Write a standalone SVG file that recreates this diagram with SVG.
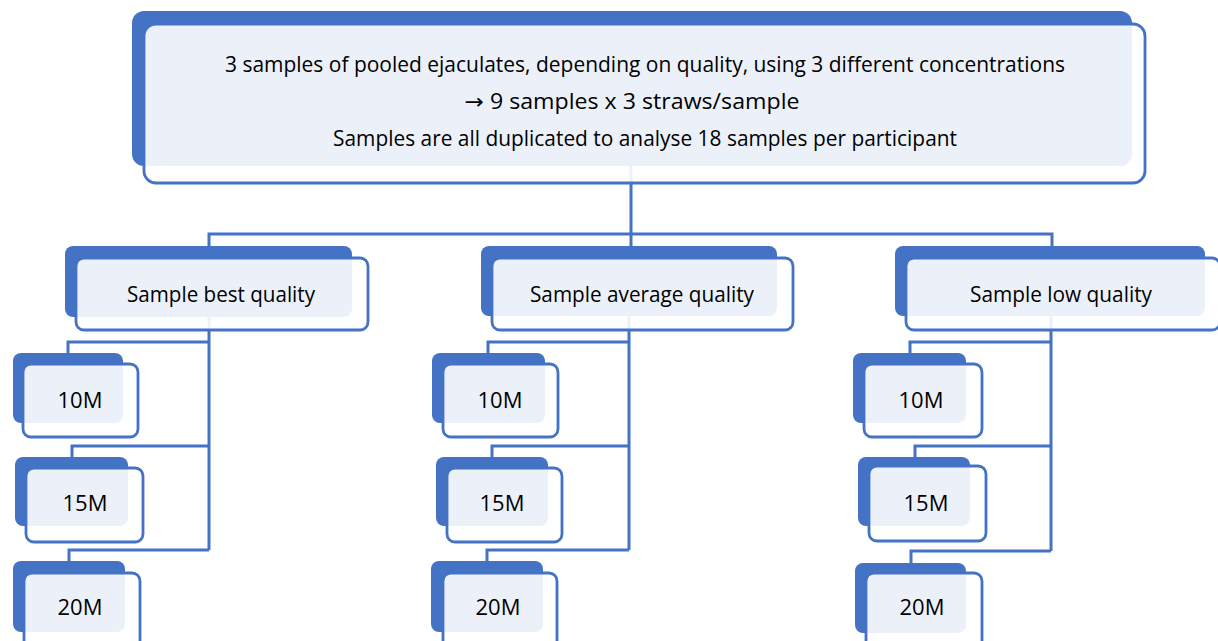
<svg xmlns="http://www.w3.org/2000/svg" width="1218" height="641" viewBox="0 0 1218 641">
<style>
.back{fill:#4472C4;}
.front{fill:#FFFFFF;fill-opacity:0.9;stroke:#4472C4;stroke-width:2.8;}
.conn{fill:none;stroke:#4472C4;stroke-width:3;}
.t{font-family:"Open Sans","Liberation Sans",sans-serif;fill:#000000;text-anchor:middle;font-weight:500;}
.top{font-size:21px;}
.mid{font-size:21px;}
.sm{font-size:22px;}
.arrow{font-family:"DejaVu Sans",sans-serif;font-weight:normal;}
</style>
<rect width="1218" height="641" fill="#FFFFFF"/>
<g id="connectors">
<path class="conn" d="M631,166 V234 M209,246 V234 H1052 V246 M631,234 V246"/>
<path class="conn" d="M209,316 V550 M68,353 V342 H209 M72,457 V446 H209 M69,561 V550 H209"/>
<path class="conn" d="M629,316 V550 M488,353 V342 H629 M492,457 V446 H629 M487,561 V550 H629"/>
<path class="conn" d="M1051,316 V551 M910,353 V342 H1051 M915,457 V446 H1051 M911,563 V551 H1051"/>
</g>
<g id="top">
<rect class="back" x="132" y="11" width="1000" height="155" rx="12"/>
<rect class="front" x="144" y="24" width="1001" height="159" rx="12"/>
<text class="t top" x="645" y="72" textLength="840" lengthAdjust="spacingAndGlyphs">3 samples of pooled ejaculates, depending on quality, using 3 different concentrations</text>
<text class="t top" x="632" y="109" textLength="335" lengthAdjust="spacingAndGlyphs"><tspan class="arrow">→</tspan> 9 samples x 3 straws/sample</text>
<text class="t top" x="645" y="146" textLength="624" lengthAdjust="spacingAndGlyphs">Samples are all duplicated to analyse 18 samples per participant</text>
</g>
<g id="best">
<rect class="back" x="65" y="246" width="287" height="71" rx="8"/>
<rect class="front" x="76" y="258" width="292" height="72" rx="8"/>
<text class="t mid" x="221" y="302" textLength="188" lengthAdjust="spacingAndGlyphs">Sample best quality</text>
</g>
<g id="average">
<rect class="back" x="481" y="246" width="296" height="70" rx="8"/>
<rect class="front" x="492" y="258" width="301" height="72" rx="8"/>
<text class="t mid" x="642" y="302" textLength="224" lengthAdjust="spacingAndGlyphs">Sample average quality</text>
</g>
<g id="low">
<rect class="back" x="895" y="246" width="310" height="70" rx="8"/>
<rect class="front" x="906" y="258" width="314" height="72" rx="8"/>
<text class="t mid" x="1061" y="302" textLength="182" lengthAdjust="spacingAndGlyphs">Sample low quality</text>
</g>
<g id="best-10M">
<rect class="back" x="13" y="353" width="110" height="70" rx="8"/>
<rect class="front" x="23" y="364" width="115" height="73" rx="8"/>
<text class="t sm" x="80" y="408">10M</text>
</g>
<g id="best-15M">
<rect class="back" x="15" y="457" width="113" height="69" rx="8"/>
<rect class="front" x="26" y="468" width="117" height="74" rx="8"/>
<text class="t sm" x="85" y="511">15M</text>
</g>
<g id="best-20M">
<rect class="back" x="13" y="561" width="112" height="71" rx="8"/>
<rect class="front" x="24" y="573" width="116" height="80" rx="8"/>
<text class="t sm" x="80" y="615">20M</text>
</g>
<g id="avg-10M">
<rect class="back" x="432" y="353" width="113" height="70" rx="8"/>
<rect class="front" x="443" y="364" width="115" height="73" rx="8"/>
<text class="t sm" x="500" y="408">10M</text>
</g>
<g id="avg-15M">
<rect class="back" x="436" y="457" width="112" height="69" rx="8"/>
<rect class="front" x="447" y="468" width="115" height="74" rx="8"/>
<text class="t sm" x="502" y="511">15M</text>
</g>
<g id="avg-20M">
<rect class="back" x="431" y="561" width="112" height="71" rx="8"/>
<rect class="front" x="443" y="573" width="114" height="80" rx="8"/>
<text class="t sm" x="498" y="615">20M</text>
</g>
<g id="low-10M">
<rect class="back" x="853" y="353" width="113" height="70" rx="8"/>
<rect class="front" x="864" y="364" width="118" height="73" rx="8"/>
<text class="t sm" x="921" y="408">10M</text>
</g>
<g id="low-15M">
<rect class="back" x="858" y="457" width="112" height="69" rx="8"/>
<rect class="front" x="869" y="466" width="117" height="75" rx="8"/>
<text class="t sm" x="926" y="511">15M</text>
</g>
<g id="low-20M">
<rect class="back" x="855" y="563" width="111" height="70" rx="8"/>
<rect class="front" x="866" y="573" width="116" height="80" rx="8"/>
<text class="t sm" x="922" y="615">20M</text>
</g>
</svg>
